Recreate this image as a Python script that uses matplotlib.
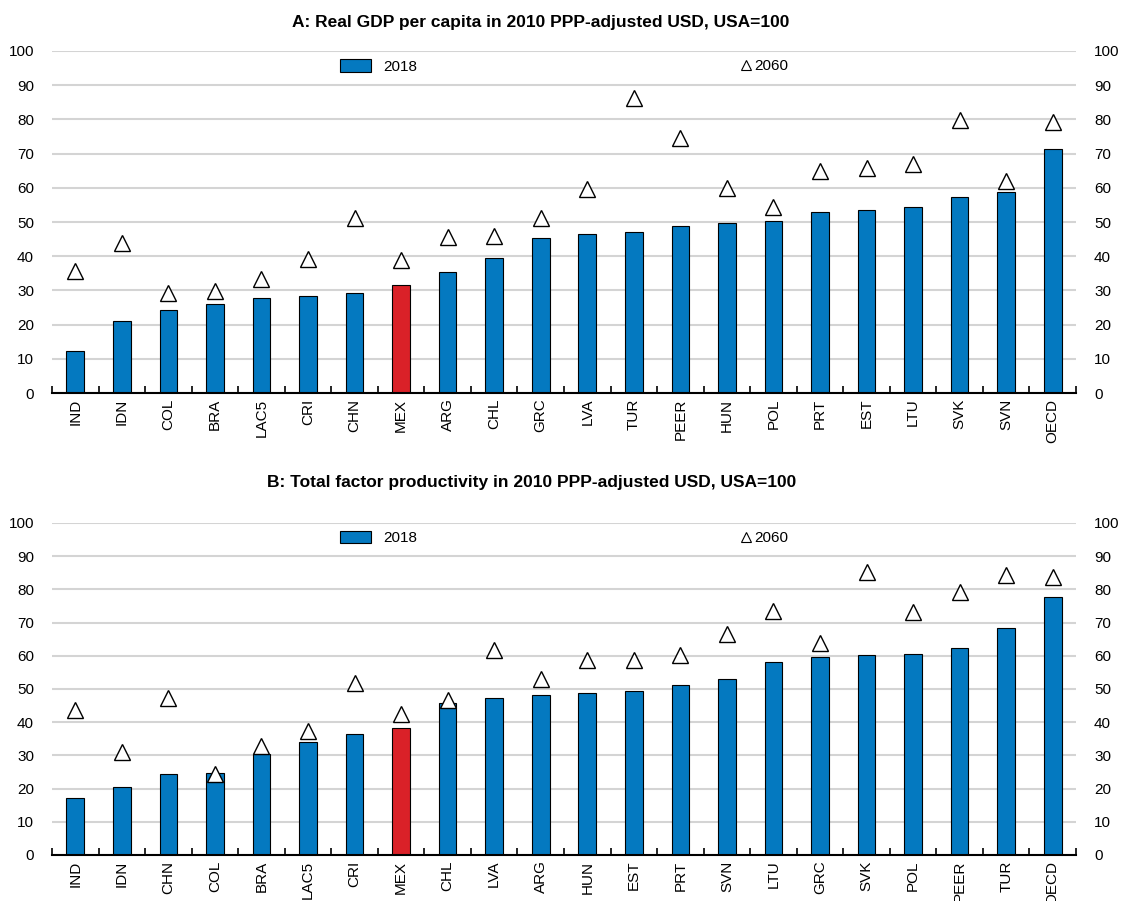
import numpy as np
import matplotlib.pyplot as plt

plt.rcParams['font.family'] = ['Liberation Sans Narrow', 'Liberation Sans', 'DejaVu Sans']

# %% DATA
# panel A: real GDP per capita, USA=100
gdp_countries = ['IND', 'IDN', 'COL', 'BRA', 'LAC5', 'CRI', 'CHN', 'MEX', 'ARG', 'CHL', 'GRC',
                 'LVA', 'TUR', 'PEER', 'HUN', 'POL', 'PRT', 'EST', 'LTU', 'SVK', 'SVN', 'OECD']
gdp_2018 = [12.2, 21.1, 24.3, 26.0, 27.7, 28.4, 29.2, 31.7, 35.3, 39.6, 45.4,
            46.5, 47.0, 48.9, 49.6, 50.2, 52.9, 53.5, 54.3, 57.4, 58.7, 71.2]
gdp_2060 = [35.8, 44.0, 29.1, 29.9, 33.3, 39.3, 51.3, 38.9, 45.7, 46.0, 51.2,
            59.6, 86.4, 74.6, 60.0, 54.4, 64.9, 65.8, 67.0, 79.8, 62.1, 79.3]

# panel B: total factor productivity, USA=100
tfp_countries = ['IND', 'IDN', 'CHN', 'COL', 'BRA', 'LAC5', 'CRI', 'MEX', 'CHL', 'LVA', 'ARG',
                 'HUN', 'EST', 'PRT', 'SVN', 'LTU', 'GRC', 'SVK', 'POL', 'PEER', 'TUR', 'OECD']
tfp_2018 = [17.3, 20.4, 24.3, 24.7, 30.4, 34.1, 36.4, 38.1, 45.7, 47.4, 48.3,
            48.9, 49.5, 51.1, 53.0, 58.1, 59.7, 60.2, 60.5, 62.4, 68.3, 77.7]
tfp_2060 = [43.6, 31.0, 47.3, 24.4, 32.9, 37.4, 51.7, 42.4, 46.7, 61.7, 53.1,
            58.6, 58.8, 60.3, 66.4, 73.6, 63.7, 85.3, 73.2, 79.2, 84.3, 83.7]

titles = ['A: Real GDP per capita in 2010 PPP-adjusted USD, USA=100',
          'B: Total factor productivity in 2010 PPP-adjusted USD, USA=100']

BLUE = '#0479c0'
RED = '#da2128'
GRID = '#d4d4d4'

# %% PLOT
fig = plt.figure(figsize=(11.26, 9.01), dpi=100)
ax_a = fig.add_axes([0.0462, 0.5638, 0.9094, 0.3796])
ax_b = fig.add_axes([0.0462, 0.0511, 0.9094, 0.3685])


def draw_panel(ax, countries, v2018, v2060, title, title_pad, title_x):
    x = np.arange(len(countries))
    colors = [RED if c == 'MEX' else BLUE for c in countries]
    bars = ax.bar(x, v2018, width=0.38, color=colors, edgecolor='black', linewidth=0.8,
                  zorder=2)
    ax.plot(x, v2060, linestyle='none', marker='^', markersize=12,
            markerfacecolor='white', markeredgecolor='black', markeredgewidth=1.0,
            zorder=3)

    ax.set_xlim(-0.5, len(countries) - 0.5)
    ax.set_ylim(0, 100)
    ax.set_yticks(np.arange(0, 101, 10))
    ax.yaxis.grid(True, color=GRID, linewidth=1.5, zorder=0)
    ax.set_axisbelow(True)

    ax.set_xticks(x)
    ax.set_xticklabels(countries, rotation=90, fontsize=11)
    ax.set_xticks(np.arange(-0.5, len(countries)), minor=True)
    ax.tick_params(axis='x', which='major', length=0, pad=4)
    ax.tick_params(axis='x', which='minor', direction='in', length=5, width=1.2)
    ax.tick_params(axis='y', length=0, labelsize=11, labelleft=True, labelright=True, pad=13)

    for side in ['top', 'left', 'right']:
        ax.spines[side].set_visible(False)
    ax.spines['bottom'].set_linewidth(1.5)

    ax.set_title(title, fontsize=12.5, fontweight='bold', pad=title_pad, x=title_x)

    leg1 = ax.legend([bars[0]], ['2018'], loc='center left', bbox_to_anchor=(0.268, 0.955),
                     frameon=False, fontsize=11, handlelength=2.0, handleheight=0.9)
    leg1.legend_handles[0].set_facecolor(BLUE)
    ax.add_artist(leg1)
    tri = plt.Line2D([], [], linestyle='none', marker='^', markersize=7,
                     markerfacecolor='white', markeredgecolor='black', markeredgewidth=0.8)
    ax.legend([tri], ['2060'], loc='center left', bbox_to_anchor=(0.66, 0.955),
              frameon=False, fontsize=11, handlelength=0.6, handletextpad=0.2)


draw_panel(ax_a, gdp_countries, gdp_2018, gdp_2060, titles[0], 17, 0.477)
draw_panel(ax_b, tfp_countries, tfp_2018, tfp_2060, titles[1], 26, 0.468)

fig.savefig('out.png', dpi=100)
